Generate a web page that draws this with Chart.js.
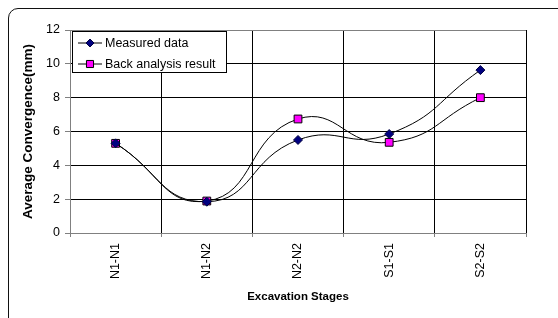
<!DOCTYPE html>
<html>
<head>
<meta charset="utf-8">
<script src="https://cdn.jsdelivr.net/npm/chart.js@4/dist/chart.umd.min.js"></script>
<style>
    html, body { margin: 0; padding: 0; background: #fff; }
    #wrap { position: relative; width: 558px; height: 318px; overflow: hidden; }
    #frame { position: absolute; left: 8px; top: 8px; width: 560px; height: 320px;
             border: 1.5px solid #111; border-radius: 10px; box-sizing: border-box; }
    canvas { position: absolute; left: 0; top: 0; }
</style>
</head>
<body>
<div id="wrap">
    <div id="frame"></div>
    <canvas id="convChart" width="558" height="318"></canvas>
</div>
<script>
var stages = ['N1-N1', 'N1-N2', 'N2-N2', 'S1-S1', 'S2-S2'];
var measured = [5.3, 1.85, 5.5, 5.85, 9.63];
var backAnalysis = [5.3, 1.89, 6.74, 5.36, 8.0];
var yTicks = [0, 2, 4, 6, 8, 10, 12];

const FONT = "'Liberation Sans', Arial, sans-serif";

// legend box sits inside the plot area, like the original
const boxLegend = {
    id: 'boxLegend',
    afterDraw(chart) {
        const ctx = chart.ctx;
        const x = 72.5, y = 31.5, w = 154, h = 41;
        ctx.save();
        ctx.fillStyle = '#fff';
        ctx.fillRect(x, y, w, h);
        ctx.strokeStyle = '#000';
        ctx.lineWidth = 1;
        ctx.strokeRect(x, y, w, h);
        chart.data.datasets.forEach((ds, i) => {
            const cy = 43 + i * 21;
            ctx.strokeStyle = '#000';
            ctx.lineWidth = 1;
            ctx.beginPath();
            ctx.moveTo(78, cy);
            ctx.lineTo(102, cy);
            ctx.stroke();
            ctx.fillStyle = ds.pointBackgroundColor;
            ctx.strokeStyle = ds.pointBorderColor;
            Chart.helpers.drawPoint(ctx, {
                pointStyle: ds.pointStyle,
                radius: ds.pointRadius - 0.5,
                borderWidth: 1
            }, 90, cy);
            ctx.fillStyle = '#000';
            ctx.font = '12.5px ' + FONT;
            ctx.textBaseline = 'middle';
            ctx.fillText(ds.label, 105, cy + 0.5);
        });
        ctx.restore();
    }
};

const ctx = document.getElementById('convChart').getContext('2d');

const convChart = new Chart(ctx, {
    type: 'line',
    data: {
        labels: stages,
        datasets: [{
            label: 'Measured data',
            data: measured,
            borderColor: '#000',
            borderWidth: 1,
            tension: 0.5,
            pointStyle: 'rectRot',
            pointRadius: 4.5,
            pointBackgroundColor: '#000080',
            pointBorderColor: '#000040',
            pointBorderWidth: 1
        }, {
            label: 'Back analysis result',
            data: backAnalysis,
            borderColor: '#000',
            borderWidth: 1,
            tension: 0.5,
            pointStyle: 'rect',
            pointRadius: 5.5,
            pointBackgroundColor: '#ff00ff',
            pointBorderColor: '#000',
            pointBorderWidth: 1
        }]
    },
    options: {
        responsive: false,
        animation: false,
        layout: { padding: { left: 0, right: 32, top: 30, bottom: 0 } },
        plugins: {
            legend: { display: false },
            tooltip: { enabled: false }
        },
        scales: {
            x: {
                offset: true,
                afterFit: (s) => { s.height = 85; },
                grid: {
                    offset: true,
                    color: (c) => (c.index === 0 || c.index === stages.length) ? '#808080' : '#000',
                    lineWidth: 1,
                    tickColor: '#808080',
                    tickLength: 4
                },
                border: { color: '#808080', width: 1 },
                ticks: {
                    color: '#000',
                    font: { family: FONT, size: 12.5 },
                    minRotation: 90,
                    maxRotation: 90,
                    padding: 6
                },
                title: {
                    display: true,
                    text: 'Excavation Stages',
                    color: '#000',
                    font: { family: FONT, size: 11.5, weight: 'bold' },
                    padding: { top: 0, bottom: 14 }
                }
            },
            y: {
                min: 0,
                max: 12,
                afterFit: (s) => { s.width = 70; },
                afterBuildTicks: (s) => { s.ticks = yTicks.map(v => ({ value: v })); },
                grid: {
                    color: (c) => (c.tick && (c.tick.value === 12 || c.tick.value === 0)) ? '#808080' : '#000',
                    lineWidth: 1,
                    tickColor: '#808080',
                    tickLength: 5
                },
                border: { color: '#808080', width: 1 },
                ticks: {
                    color: '#000',
                    font: { family: FONT, size: 12.5 },
                    padding: 5
                },
                title: {
                    display: true,
                    text: 'Average Convergence(mm)',
                    color: '#000',
                    font: { family: FONT, size: 13.5, weight: 'bold' },
                    padding: { top: 20, bottom: 0 }
                }
            }
        }
    },
    plugins: [boxLegend]
});
</script>
</body>
</html>
